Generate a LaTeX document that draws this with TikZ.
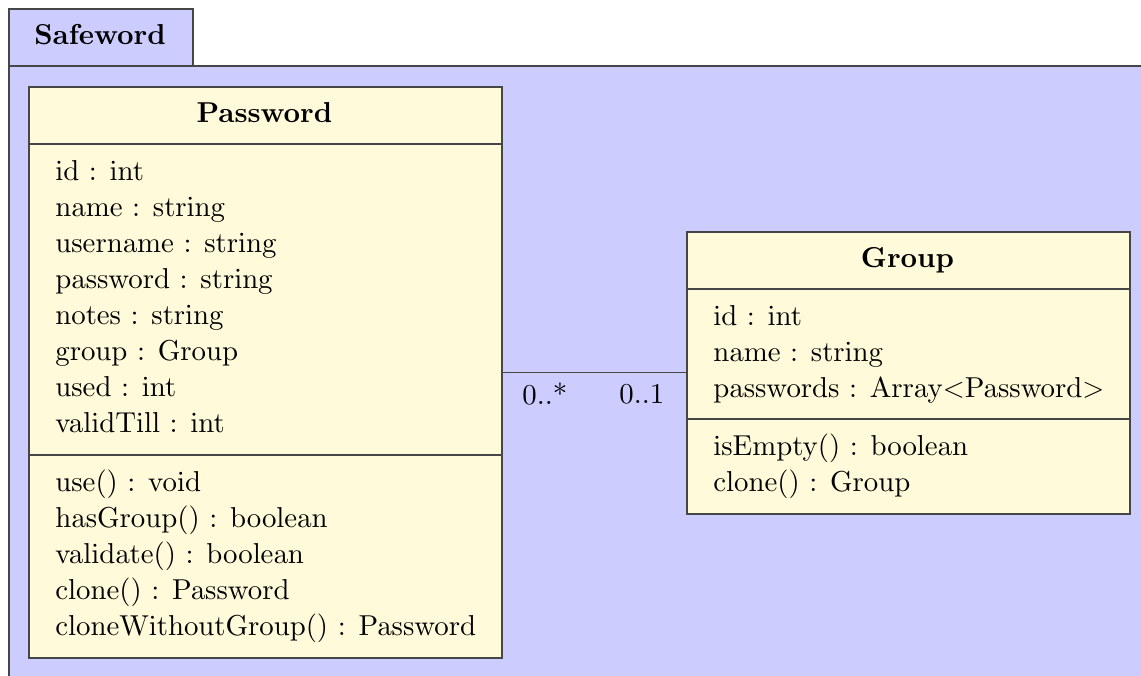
\documentclass[tikz,border=0pt]{standalone}
\usetikzlibrary{positioning}
\definecolor{pkgfill}{RGB}{204,204,255}
\definecolor{clsfill}{RGB}{255,250,217}
\definecolor{edge}{RGB}{70,70,70}
% 10pt design sizes, enlarged
\font\umlrm=cmr10 at 14.4pt
\font\umlbf=cmbx10 at 14.4pt
\begin{document}
\begin{tikzpicture}[x=0.5pt,y=-0.5pt,
  every node/.style={font=\fontsize{14.4}{18}\selectfont\umlrm},
  pkgbox/.style={draw=edge,fill=pkgfill,line width=0.8pt,inner sep=0pt,anchor=north west},
  classbox/.style={draw=edge,fill=clsfill,line width=0.8pt,inner sep=0pt,anchor=north west},
  member/.style={anchor=base west,inner sep=0pt},
  title/.style={anchor=base,inner sep=0pt,font=\fontsize{14.4}{18}\selectfont\umlbf},
  sep/.style={draw=edge,line width=0.8pt},
  assoc/.style={draw=edge,line width=0.8pt},
  mult/.style={anchor=base west,inner sep=0pt}]
\useasboundingbox (0,0) rectangle (1141,675);

% package frame
\node[pkgbox,minimum width=92pt,minimum height=28.5pt] (tab) at (8,8) {};
\node[pkgbox,minimum width=600pt,minimum height=330pt] (pkg) at (8,65) {};
\node[title] (pkgname) at (100,44) {Safeword};

% class Password
\node[classbox,minimum width=236.5pt,minimum height=285.5pt] (pw) at (28,86) {};
\draw[sep] ([yshift=-29pt]pw.north west) -- ([yshift=-29pt]pw.north east);
\draw[sep] ([yshift=-184.5pt]pw.north west) -- ([yshift=-184.5pt]pw.north east);
\node[title] (pwname) at (264.5,122) {Password};
\node[member] (pa1) at (55,180) {id : int};
\node[member] (pa2) at (55,216) {name : string};
\node[member] (pa3) at (55,252) {username : string};
\node[member] (pa4) at (55,288) {password : string};
\node[member] (pa5) at (55,324) {notes : string};
\node[member] (pa6) at (55,360) {group : Group};
\node[member] (pa7) at (55,396) {used : int};
\node[member] (pa8) at (55,432) {validTill : int};
\node[member] (pm1) at (55,491) {use() : void};
\node[member] (pm2) at (55,527) {hasGroup() : boolean};
\node[member] (pm3) at (55,563) {validate() : boolean};
\node[member] (pm4) at (55,599) {clone() : Password};
\node[member] (pm5) at (55,635) {cloneWithoutGroup() : Password};

% class Group
\node[classbox,minimum width=221.5pt,minimum height=141pt] (gr) at (686,231) {};
\draw[sep] ([yshift=-29pt]gr.north west) -- ([yshift=-29pt]gr.north east);
\draw[sep] ([yshift=-94pt]gr.north west) -- ([yshift=-94pt]gr.north east);
\node[title] (grname) at (907.5,267) {Group};
\node[member] (ga1) at (713,325) {id : int};
\node[member] (ga2) at (713,361) {name : string};
\node[member] (ga3) at (713,397) {passwords : Array$<$Password$>$};
\node[member] (gm1) at (713,455) {isEmpty() : boolean};
\node[member] (gm2) at (713,491) {clone() : Group};

% association
\draw[assoc] (pw.east) -- (pw.east -| gr.west);
\node[mult] (m1) at (522,404) {0..*};
\node[mult] (m2) at (619,403) {0..1};
\end{tikzpicture}
\end{document}
